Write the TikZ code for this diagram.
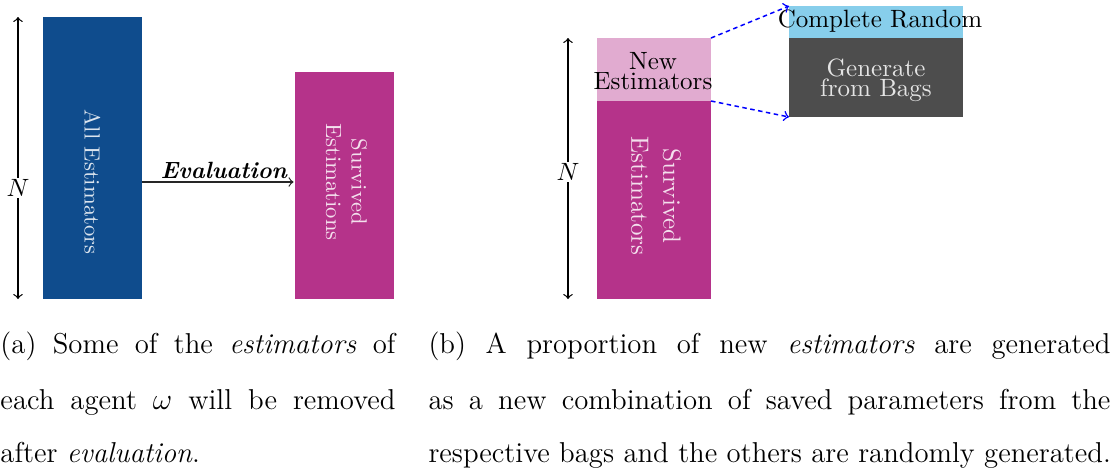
\documentclass[tikz,border=0pt]{standalone}
\usepackage{fontspec}
\usetikzlibrary{calc}

\definecolor{allblue}{RGB}{15,76,141}
\definecolor{survmag}{RGB}{181,51,138}
\definecolor{newpink}{RGB}{225,171,208}
\definecolor{randsky}{RGB}{135,206,235}
\definecolor{bagdark}{RGB}{77,77,77}
\definecolor{linkblue}{RGB}{0,0,255}

\begin{document}
\begin{tikzpicture}[x=0.4pt,y=-0.4pt,
  block/.style={rectangle, draw=none, inner sep=0pt, outer sep=0pt},
  lighttext/.style={text=white, text opacity=0.85, inner sep=0pt},
  darktext/.style={text=black, inner sep=0pt},
  span/.style={<->, >=to, line width=0.5pt},
  nmark/.style={fill=white, inner sep=0.6pt},
  flow/.style={->, >=to, line width=0.5pt, black!85},
  link/.style={->, >=to, draw=linkblue, line width=0.6pt, dash pattern=on 1.8pt off 1.4pt},
  captxt/.style={anchor=base west, inner sep=0pt, font=\fontsize{11.5}{13}\selectfont}
]
\useasboundingbox (0,0) rectangle (1118,473);

% ---------- left panel: evaluation ----------
\node[block, fill=allblue, minimum width=39.6pt, minimum height=112.8pt] (allbox) at (92.5,158) {};
\node[block, fill=survmag, minimum width=39.6pt, minimum height=90.8pt] (survA) at (344.5,185.5) {};
\node[lighttext, rotate=-90, font=\fontsize{8.8}{10.4}\selectfont] (alltxt) at (92.5,182) {All Estimators};
\node[lighttext, rotate=-90, align=center, font=\fontsize{8.8}{10.2}\selectfont] (survAtxt) at (346.5,182) {Survived\\Estimations};

\coordinate (evy) at (0,182);
\draw[flow] (allbox.east |- evy) -- ($(survA.west |- evy)+(-1.5,0)$)
  node[pos=0.54, above, inner sep=1.2pt, font=\fontsize{9.4}{11}\selectfont\bfseries\itshape, text=black] (evlab) {Evaluation};

\coordinate (nAtop) at (18,17);
\coordinate (nAbot) at (18,299);
\draw[span] (nAtop) -- (nAbot) node[nmark, pos=0.606] (nA) {$N$};

% ---------- right panel: regeneration ----------
\node[block, fill=newpink, minimum width=45.6pt, minimum height=25.2pt] (newbox) at (654,69.5) {};
\node[block, fill=survmag, minimum width=45.6pt, minimum height=79.2pt] (survB) at (654,200) {};
\node[darktext, align=center, font=\fontsize{10}{6.3}\selectfont] (newtxt) at (653,71) {New\\Estimators};
\node[lighttext, rotate=-90, align=center, font=\fontsize{10}{12.8}\selectfont] (survBtxt) at (656,196) {Survived\\Estimators};

\node[block, fill=randsky, minimum width=69.6pt, minimum height=12.8pt] (randbox) at (876,22) {};
\node[block, fill=bagdark, minimum width=69.6pt, minimum height=31.6pt] (bagbox) at (876,77.5) {};
\node[darktext, font=\fontsize{10}{12}\selectfont] (randtxt) at (880,21) {Complete Random};
\node[lighttext, align=center, font=\fontsize{10}{8}\selectfont] (bagtxt) at (876,80) {Generate\\from Bags};

\draw[link] (newbox.north east) -- (randbox.north west);
\draw[link] (newbox.south east) -- (bagbox.south west);

\coordinate (nBtop) at (568,38);
\coordinate (nBbot) at (568,299);
\draw[span] (nBtop) -- (nBbot) node[nmark, pos=0.513] (nB) {$N$};

% ---------- captions ----------
\node[captxt] (capa1) at (0,353) {\makebox[158pt][s]{(a) Some of the \emph{estimators} of}};
\node[captxt] (capa2) at (0,409) {\makebox[158pt][s]{each agent $\omega$ will be removed}};
\node[captxt] (capa3) at (0,462) {after \emph{evaluation}.};

\node[captxt] (capb1) at (428,353) {\makebox[272.8pt][s]{(b) A proportion of new \emph{estimators} are generated}};
\node[captxt] (capb2) at (428,409) {\makebox[272.8pt][s]{as a new combination of saved parameters from the}};
\node[captxt] (capb3) at (428,462) {respective bags and the others are randomly generated.};
\end{tikzpicture}
\end{document}
